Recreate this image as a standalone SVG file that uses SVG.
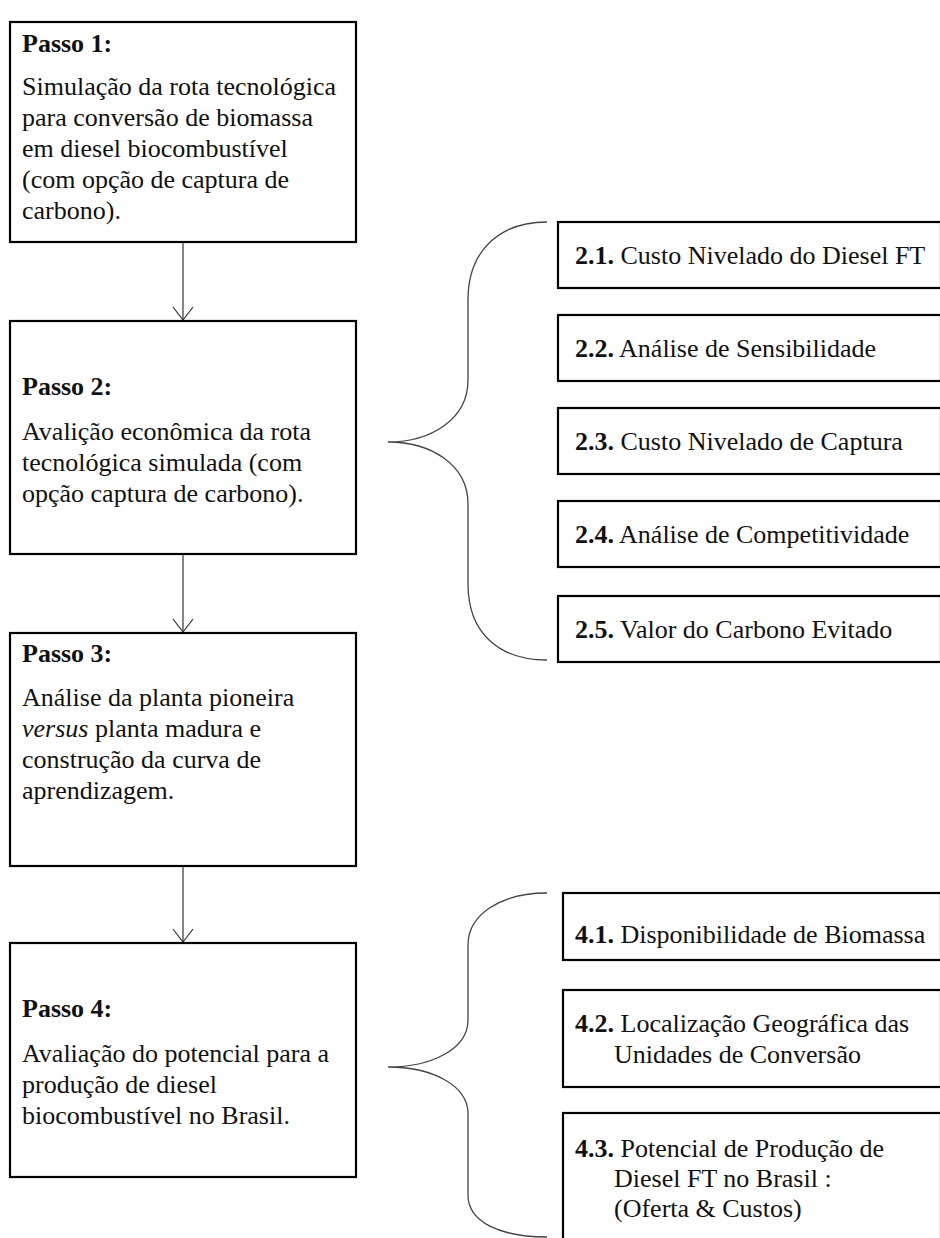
<svg xmlns="http://www.w3.org/2000/svg" width="940" height="1238" viewBox="0 0 940 1238">
<style>
text{font-family:"Liberation Serif","Times New Roman",serif;font-size:26px;fill:#111}
.b{font-weight:bold}
.box{fill:#fff;stroke:#000;stroke-width:2.2}
.conn{fill:none;stroke:#333;stroke-width:1.2}
.brace{fill:none;stroke:#444;stroke-width:1.3}
</style>
<defs>
<marker id="v" markerWidth="16" markerHeight="24" refX="14" refY="12" orient="auto" markerUnits="userSpaceOnUse" viewBox="0 0 16 24">
<path d="M1,2 L14,12 L1,22" fill="none" stroke="#333" stroke-width="1.2"/>
</marker>
</defs>
<rect width="940" height="1238" fill="#fff"/>
<g id="connectors">
<line class="conn" x1="183" y1="242" x2="183" y2="320" marker-end="url(#v)"/>
<line class="conn" x1="183" y1="554" x2="183" y2="632" marker-end="url(#v)"/>
<line class="conn" x1="183" y1="866" x2="183" y2="942" marker-end="url(#v)"/>
<path class="brace" d="M547,222 C500,222 468,250 468,300 L468,380 C468,420 430,442 388,442 C430,442 468,464 468,504 L468,584 C468,634 500,660 547,660"/>
<path class="brace" d="M547,893 C500,893 468,915 468,945 L468,1020 C468,1050 430,1067 388,1067 C430,1067 468,1084 468,1114 L468,1195 C468,1222 500,1237 547,1237"/>
</g>
<g id="passo1">
<rect class="box" x="10" y="22" width="346" height="220"/>
<text x="22" y="52" class="b">Passo 1:</text>
<text x="22" y="95">Simulação da rota tecnológica</text>
<text x="22" y="126">para conversão de biomassa</text>
<text x="22" y="157">em diesel biocombustível</text>
<text x="22" y="188">(com opção de captura de</text>
<text x="22" y="219">carbono).</text>
</g>
<g id="passo2">
<rect class="box" x="10" y="321" width="346" height="233"/>
<text x="22" y="395" class="b">Passo 2:</text>
<text x="22" y="440">Avalição econômica da rota</text>
<text x="22" y="471">tecnológica simulada (com</text>
<text x="22" y="502">opção captura de carbono).</text>
</g>
<g id="passo3">
<rect class="box" x="10" y="633" width="346" height="233"/>
<text x="22" y="662" class="b">Passo 3:</text>
<text x="22" y="706">Análise da planta pioneira</text>
<text x="22" y="737"><tspan font-style="italic">versus</tspan> planta madura e</text>
<text x="22" y="768">construção da curva de</text>
<text x="22" y="799">aprendizagem.</text>
</g>
<g id="passo4">
<rect class="box" x="10" y="943" width="346" height="234"/>
<text x="22" y="1017" class="b">Passo 4:</text>
<text x="22" y="1062">Avaliação do potencial para a</text>
<text x="22" y="1093">produção de diesel</text>
<text x="22" y="1124">biocombustível no Brasil.</text>
</g>
<g id="s21">
<rect class="box" x="558" y="222" width="383" height="66"/>
<text x="575" y="264"><tspan class="b">2.1.</tspan> Custo Nivelado do Diesel FT</text>
</g>
<g id="s22">
<rect class="box" x="558" y="315" width="383" height="66"/>
<text x="575" y="357"><tspan class="b">2.2.</tspan> Análise de Sensibilidade</text>
</g>
<g id="s23">
<rect class="box" x="558" y="408" width="383" height="66"/>
<text x="575" y="450"><tspan class="b">2.3.</tspan> Custo Nivelado de Captura</text>
</g>
<g id="s24">
<rect class="box" x="558" y="501" width="383" height="66"/>
<text x="575" y="543"><tspan class="b">2.4.</tspan> Análise de Competitividade</text>
</g>
<g id="s25">
<rect class="box" x="558" y="596" width="383" height="66"/>
<text x="575" y="638"><tspan class="b">2.5.</tspan> Valor do Carbono Evitado</text>
</g>
<g id="s41">
<rect class="box" x="563" y="893" width="378" height="67"/>
<text x="575" y="943"><tspan class="b">4.1.</tspan> Disponibilidade de Biomassa</text>
</g>
<g id="s42">
<rect class="box" x="563" y="990" width="378" height="97"/>
<text x="575" y="1032"><tspan class="b">4.2.</tspan> Localização Geográfica das</text>
<text x="614" y="1063">Unidades de Conversão</text>
</g>
<g id="s43">
<rect class="box" x="563" y="1113" width="378" height="140"/>
<text x="575" y="1157"><tspan class="b">4.3.</tspan> Potencial de Produção de</text>
<text x="614" y="1187">Diesel FT no Brasil :</text>
<text x="614" y="1217">(Oferta &amp; Custos)</text>
</g>
</svg>
